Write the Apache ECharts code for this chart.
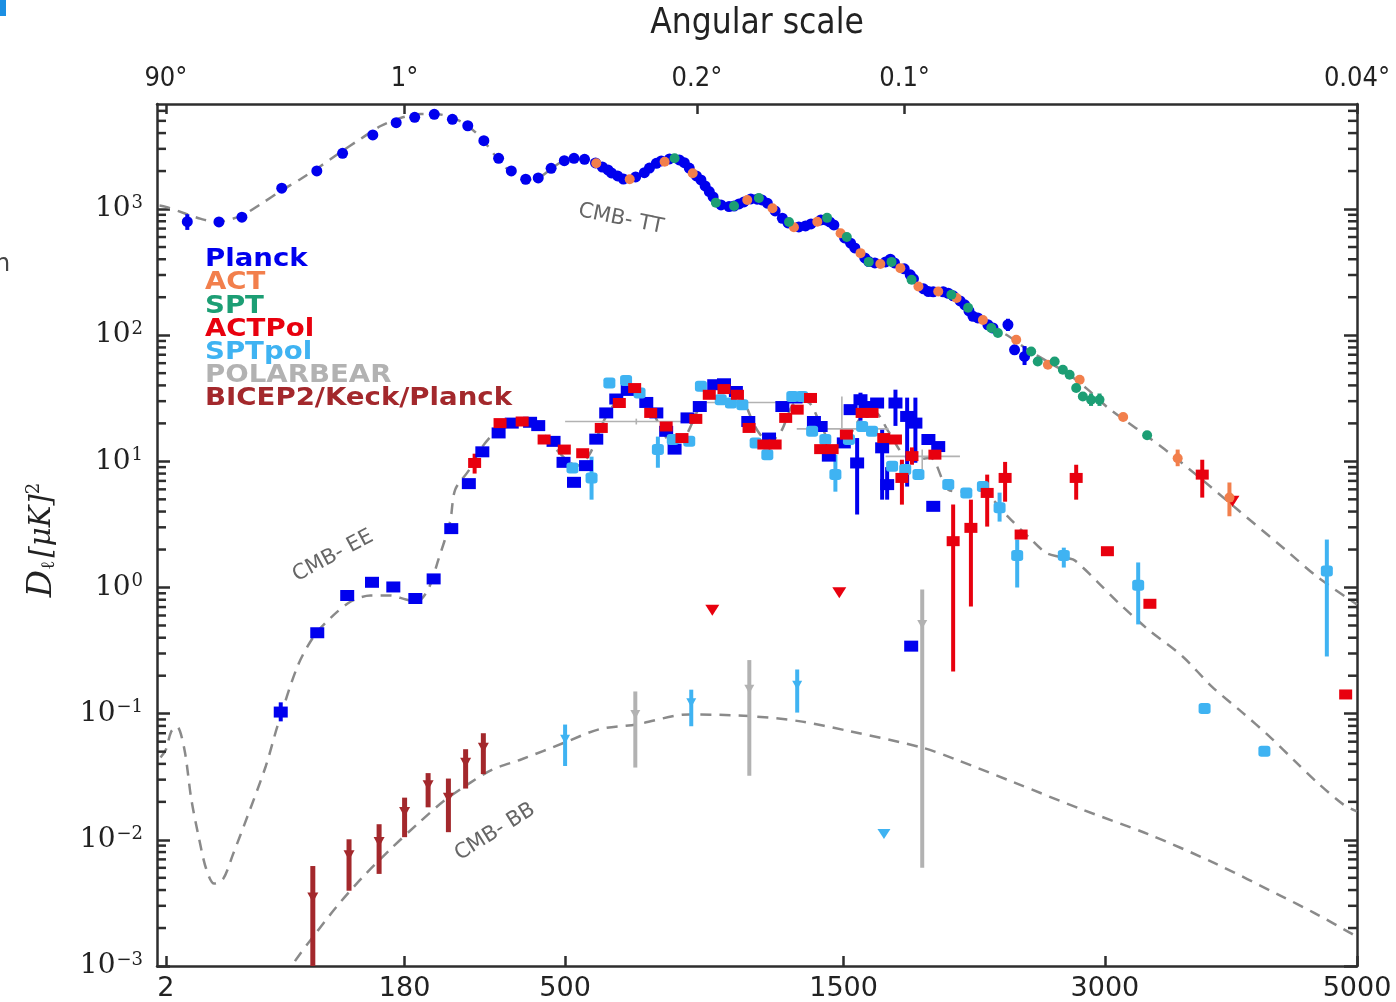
<!DOCTYPE html>
<html>
<head>
<meta charset="utf-8">
<title>CMB power spectra</title>
<script src="https://cdn.jsdelivr.net/npm/echarts@6/dist/echarts.min.js"></script>
<style>
  html, body { margin: 0; padding: 0; background: #fff; }
  #chart { width: 1396px; height: 1002px; }
</style>
</head>
<body>
<div id="chart"></div>
<script>
// multipole axis is drawn on an l^0.45 scale
const P = 0.45;
const xf = l => Math.pow(l, P);
const X_MIN = xf(1.07), X_MAX = xf(5000);

// tick labels
const bottomTicks = [2, 180, 500, 1500, 3000, 5000];
const topTickEll = [2, 180, 900, 1800, 5000];
const topTickText = ['90°', '1°', '0.2°', '0.1°', '0.04°'];
const yMajor = [1e-3, 1e-2, 1e-1, 1, 10, 100, 1000];

// theory curves [l, D]
const ttModel = [[1.3,1065],[2,1040],[5.4,914],[9,835],[13.8,790],[24.1,882],[34.8,1097],[47.6,1390],[62.7,1730],[80.2,2194],[100,2831],[122,3590],[147,4550],[174,5260],[204,5660],[228,5660],[254,5360],[280,4720],[309,3724],[338,2680],[371,1967],[404,1700],[438,1795],[474,2194],[511,2493],[551,2493],[592,2234],[635,1862],[680,1730],[725,1967],[773,2360],[823,2540],[873,2194],[926,1524],[980,1138],[1036,1057],[1094,1159],[1153,1138],[1215,931],[1278,748],[1343,762],[1410,820],[1478,683],[1549,501],[1620,388],[1693,367],[1769,354],[1846,275],[1925,225],[2005,213],[2088,191],[2172,145],[2258,121],[2377,98.9],[2498,76.6],[2624,61.5],[2753,49.5],[2885,37],[3021,26.6],[3232,17.8],[3447,11.9],[3668,7.7],[3982,4.15],[4373,2.0],[4645,1.22],[5000,0.733]];
const eeModel = [[1.4,0.045],[2,0.052],[2.7,0.072],[3.6,0.079],[5,0.052],[6.5,0.021],[8.5,0.0101],[10.5,0.0059],[13.1,0.0045],[16.4,0.0049],[20.5,0.0077],[27.5,0.0155],[37.8,0.0385],[45.4,0.08],[60.2,0.238],[74,0.411],[90,0.578],[111,0.775],[134,0.865],[160,0.865],[182,0.803],[198,0.775],[216,0.964],[233,1.67],[253,3.33],[262,5.97],[288,8.6],[309,12.4],[338,16.9],[371,19.9],[404,20.6],[438,17.8],[474,12.8],[509,9.95],[532,9.25],[564,11.3],[606,21.4],[649,31.9],[680,35.6],[725,31.9],[773,19.5],[812,14.3],[856,15.4],[908,26.6],[962,37],[1010,39],[1063,32.5],[1125,17.8],[1174,14.3],[1223,17.2],[1278,28.6],[1334,29.7],[1396,19.5],[1455,12.8],[1515,14.9],[1582,22.2],[1645,24.8],[1718,17.2],[1793,11.3],[1862,10.3],[1935,10.7],[2033,5.97],[2117,5.75],[2200,5.97],[2317,4.54],[2377,3.65],[2519,2.4],[2610,1.89],[2688,1.76],[2785,1.67],[2851,1.44],[2952,1.1],[3091,0.761],[3303,0.465],[3557,0.284],[3780,0.164],[4022,0.102],[4241,0.0661],[4466,0.0411],[4645,0.0286],[4876,0.0191],[5000,0.0168]];
const bbModel = [[52,0.0008],[57.3,0.00106],[73.8,0.00173],[96.5,0.003],[126,0.00518],[160,0.00843],[199,0.0133],[242,0.0203],[290,0.0284],[334,0.0362],[396,0.0435],[498,0.0589],[590,0.0751],[700,0.0822],[873,0.0987],[1094,0.0957],[1299,0.0873],[1525,0.0728],[1892,0.0538],[2073,0.0435],[2417,0.0284],[2840,0.0175],[3303,0.0111],[3793,0.0066],[4336,0.0036],[4616,0.00265],[4930,0.00185],[5000,0.0017]];

// measurements [l, D, lo, hi]
const planckTT = [[5.6,794,683,910],[14.8,791],[24.6,861],[48.3,1462],[76.6,2004],[102,2766],[137,3864],[168,4831],[195,5333],[226,5633],[257,5140],[285,4571],[316,3481],[346,2525],[373,2004],[405,1722],[434,1763],[465,2104],[498,2417],[523,2525],[551,2479],[581,2321],[600,2154],[616,2040],[626,1932],[644,1828],[661,1730],[698,1795],[725,1941],[741,2113],[763,2305],[779,2404],[806,2495],[839,2449],[856,2329],[873,2113],[898,1829],[914,1700],[929,1524],[944,1374],[958,1247],[987,1077],[1017,1045],[1036,1057],[1055,1097],[1074,1138],[1101,1202],[1126,1196],[1145,1181],[1167,1112],[1199,966],[1229,845],[1253,776],[1299,721],[1328,735],[1352,762],[1396,820],[1418,820],[1436,791],[1455,748],[1505,590],[1533,536],[1553,492],[1601,410],[1620,383],[1650,374],[1703,381],[1727,400],[1748,374],[1798,336],[1829,301],[1846,280],[1899,233],[1925,222],[1951,221],[2005,221],[2033,215],[2060,205],[2099,187],[2125,174],[2149,156],[2172,141],[2200,137],[2258,121],[2288,114],[2377,121,108,135],[2417,76.6],[2478,67.8,58,82]];
const actTT = [[583,2305],[680,1722],[790,2373],[885,1920],[1087,1181],[1188,1015],[1278,718],[1380,794],[1486,643],[1580,447],[1677,367],[1778,340],[1872,243],[1978,222],[2079,197],[2229,132],[2427,92],[2624,58.3],[2830,44.4],[3126,22.5],[3520,10.6,9.15,12.4],[3918,5.16,3.67,6.8]];
const sptTT = [[823,2525],[968,1124],[1036,1057],[1133,1224],[1257,790],[1424,851],[1515,601],[1620,381],[1733,381],[1836,275],[2050,209],[2144,165],[2278,114],[2317,104],[2519,74.3],[2560,61.9],[2667,61.9],[2720,53.2],[2764,48.6],[2807,38.1],[2851,32.7],[2906,30.8,27.5,34.5],[2963,30.8,27.5,34.5],[3296,16.1]];
const planckEE = [[47.6,0.103,0.0869,0.123],[77,0.438],[107,0.864],[136,1.10],[164,1.01],[196,0.818],[225,1.17],[255,2.93],[287,6.66],[313,11.9],[346,16.8],[374,20.1],[415,20.4],[434,19.2],[471,14.4],[496,9.82],[523,6.82],[555,9.25],[583,15.0],[611,24.2],[640,31.2],[674,36.5],[731,29.3],[763,24.2],[795,17.3],[823,12.5],[867,22.1],[910,27.2],[962,40.5],[998,41.2],[1043,35.8],[1091,20.7],[1174,15.3],[1229,27.2],[1285,31.8],[1365,20.7],[1395,18.9],[1432,11.0],[1501,14.0],[1533,25.7],[1580,30.8,21,35],[1620,27.2],[1661,29.0],[1564,9.71,3.79,15.3],[1686,12.8,4.97,17.8],[1711,6.54,4.97,9.0],[1753,29.0,19.1,37.0],[1813,22.7,6.31,32.0],[1856,20.1,9.75,32.0],[1925,14.9],[1978,13.1],[1951,4.40],[1834,0.343]];
const actpolEE = [[298,9.71,8.0,11.5],[349,20.1],[397,20.7],[448,14.9],[498,12.4],[546,11.6],[597,18.4],[649,29.0],[695,38.1],[745,24.2],[795,18.9],[848,15.3],[896,21.7],[944,33.7],[998,37.4],[1049,33.7],[1094,18.4],[1153,13.6],[1199,13.6],[1243,22.1],[1292,25.7],[1350,31.8],[1395,12.5],[1447,12.5],[1513,16.3],[1588,24.2],[1636,24.2],[1694,15.3],[1753,14.9],[1786,7.39,4.54,10.3],[1838,11.0,9.4,12.9],[1960,11.3],[2060,2.33,0.216,4.54],[2160,2.97,0.707,4.97],[2254,5.62,3.04,7.85],[2360,7.39,4.79,9.9],[2457,2.63],[2807,7.39,4.97,9.4],[3017,1.94],[3316,0.743],[3706,7.85,5.16,10.3],[4898,0.142]];
const actpolLimits = [[955,0.661],[1480,0.908],[3942,4.82]];
const sptpolEE = [[519,8.87],[570,7.39,4.97,10.9],[620,41.8],[669,43.8],[710,34.8],[768,12.4,8.9,15.7],[817,14.9],[873,14.4],[914,39.3],[986,30.8],[1024,29.0],[1068,28.1],[1120,14.0],[1167,11.3],[1271,32.7],[1313,32.7],[1357,17.3],[1416,14.9],[1462,7.85,5.75,11.3],[1525,14.9],[1588,18.9],[1636,17.3],[1736,9.13],[1803,8.6],[1872,7.85],[2033,6.54],[2134,5.62],[2229,6.31],[2327,4.28,3.33,5.65],[2433,1.79,1.0,2.40],[2726,1.79,1.44,2.07],[3232,1.04,0.51,1.58],[3724,0.110],[4200,0.0503],[4731,1.35,0.284,2.40]];
const sptpolBB = [[500,0.0626,0.0385,0.082],[880,0.122,0.0795,0.155],[1292,0.168,0.102,0.224]];
const sptpolLimits = [[1695,0.0111]];
// [l, D, lmin, lmax, Dlo, Dhi]
const polarbearEE = [[700,20.7,500,898,19.6,21.8],[1073,29.3,908,1257,27.8,30.8],[1492,18.1,1290,1718,15.4,32.7],[1892,10.96,1703,2098,8.6,12.4]];
const polarbearBB = [[697,0.0986,0.0374,0.15],[1095,0.156,0.0322,0.266],[1892,0.509,0.006,0.964]];
const bicepBB = [[73,0.00349,0.001,0.0062],[109,0.00755,0.00395,0.0101],[145,0.0096,0.00537,0.0133],[180,0.0166,0.0105,0.0216],[216,0.0271,0.0181,0.0338],[250,0.0216,0.0115,0.0306],[281,0.0409,0.0255,0.0523],[315,0.0538,0.0332,0.070]];

const C = {
    planck: '#0000ee', act: '#f27f4c', spt: '#1c9e74', actpol: '#e8000e',
    sptpol: '#3fb3f2', polarbear: '#b2b2b2', bicep: '#a3282c', model: '#8a8a8a'
};
const axisColor = '#2e2e2e';

// minor tick positions of the log axis (2..9 per decade)
const yMinor = [];
for (let e = -3; e <= 3; e++) for (let k = 2; k <= 9; k++) {
    const v = k * Math.pow(10, e);
    if (v < 6800) yMinor.push(v);
}

function nearest(list, v) {
    return list.reduce((a, b) => Math.abs(b - v) < Math.abs(a - v) ? b : a);
}

function model(data) {
    return {
        type: 'line', data: data.map(d => [xf(d[0]), d[1]]), showSymbol: false, smooth: 0.3,
        lineStyle: { color: C.model, width: 2.5, type: [11, 8] }, silent: true, z: 1
    };
}
function points(data, color, symbol, size, rotate) {
    return {
        type: 'scatter', data: data.map(d => [xf(d[0]), d[1]]), symbol: symbol, symbolSize: size,
        symbolRotate: rotate || 0, itemStyle: { color: color, opacity: 1 }, silent: true, z: 3
    };
}
function errbars(data, color, w) {
    return {
        type: 'custom', silent: true, z: 3,
        data: data.filter(d => d.length >= 4).map(d => [xf(d[0]), d[2], d[3]]),
        encode: { x: 0, y: [1, 2] },
        renderItem: function (params, api) {
            const a = api.coord([api.value(0), api.value(1)]);
            const b = api.coord([api.value(0), api.value(2)]);
            return { type: 'line', shape: { x1: a[0], y1: a[1], x2: b[0], y2: b[1] },
                style: { stroke: color, lineWidth: w } };
        }
    };
}
function crossbars(data, color, w) {
    return {
        type: 'custom', silent: true, z: 2,
        data: data.map(d => [xf(d[2]), xf(d[3]), d[1], d[4], d[5], xf(d[0])]),
        encode: { x: [0, 1], y: 2 },
        renderItem: function (params, api) {
            const a = api.coord([api.value(0), api.value(2)]);
            const b = api.coord([api.value(1), api.value(2)]);
            const c = api.coord([api.value(5), api.value(3)]);
            const d = api.coord([api.value(5), api.value(4)]);
            return { type: 'group', children: [
                { type: 'line', shape: { x1: a[0], y1: a[1], x2: b[0], y2: b[1] }, style: { stroke: color, lineWidth: w } },
                { type: 'line', shape: { x1: c[0], y1: c[1], x2: d[0], y2: d[1] }, style: { stroke: color, lineWidth: w } }
            ] };
        }
    };
}
// short inward marks on both vertical spines at the minor log values
function minorTicks(values, len) {
    return {
        type: 'custom', silent: true, z: 6,
        data: values.map(v => [(X_MIN + X_MAX) / 2, v]),
        encode: { x: 0, y: 1 },
        renderItem: function (params, api) {
            const l = api.coord([X_MIN, api.value(1)]);
            const r = api.coord([X_MAX, api.value(1)]);
            const st = { stroke: axisColor, lineWidth: 2.5 };
            return { type: 'group', children: [
                { type: 'line', shape: { x1: l[0], y1: l[1], x2: l[0] + len, y2: l[1] }, style: st },
                { type: 'line', shape: { x1: r[0] - len, y1: r[1], x2: r[0], y2: r[1] }, style: st }
            ] };
        }
    };
}

const yAxisBase = {
    type: 'log', logBase: 10, min: 0.001, max: 6800, splitLine: { show: false },
    axisLine: { show: true, onZero: false, lineStyle: { color: axisColor, width: 2.5 } },
    axisTick: { show: true, inside: true, length: 13, customValues: yMajor, lineStyle: { color: axisColor, width: 2.5 } }
};

const legendItems = [
    ['Planck', C.planck], ['ACT', C.act], ['SPT', C.spt], ['ACTPol', C.actpol],
    ['SPTpol', C.sptpol], ['POLARBEAR', C.polarbear], ['BICEP2/Keck/Planck', C.bicep]
];

const chart = echarts.init(document.getElementById('chart'));
chart.setOption({
    animation: false,
    backgroundColor: '#fff',
    grid: { left: 157, top: 104, width: 1200, height: 862 },
    xAxis: [{
        type: 'value', position: 'bottom', min: X_MIN, max: X_MAX,
        axisLine: { show: true, onZero: false, lineStyle: { color: axisColor, width: 2.5 } },
        axisTick: { show: true, inside: true, length: 10, customValues: bottomTicks.map(xf), lineStyle: { color: axisColor, width: 2.5 } },
        axisLabel: { customValues: bottomTicks.map(xf), margin: 9, fontSize: 27, color: '#222', fontFamily: 'DejaVu Sans',
            formatter: v => String(nearest(bottomTicks, Math.pow(v, 1 / P))) },
        splitLine: { show: false }
    }, {
        type: 'value', position: 'top', min: X_MIN, max: X_MAX,
        axisLine: { show: true, onZero: false, lineStyle: { color: axisColor, width: 2.5 } },
        axisTick: { show: true, inside: true, length: 10, customValues: topTickEll.map(xf), lineStyle: { color: axisColor, width: 2.5 } },
        axisLabel: { customValues: topTickEll.map(xf), margin: 12, fontSize: 27, color: '#222', fontFamily: "'DejaVu Sans Condensed', 'DejaVu Sans'",
            formatter: v => topTickText[topTickEll.indexOf(nearest(topTickEll, Math.pow(v, 1 / P)))] },
        splitLine: { show: false }
    }],
    yAxis: [Object.assign({}, yAxisBase, {
        position: 'left',
        axisLabel: {
            customValues: yMajor, margin: 14, color: '#222',
            formatter: v => {
                const e = Math.round(Math.log10(v));
                return '{b|10}{s|' + (e < 0 ? '\u2212' + (-e) : e) + '}';
            },
            rich: {
                b: { fontSize: 28, fontFamily: 'DejaVu Serif', color: '#222' },
                s: { fontSize: 18, fontFamily: 'DejaVu Serif', color: '#222', verticalAlign: 'top', padding: [0, 0, 12, 1] }
            }
        }
    }), Object.assign({}, yAxisBase, {
        position: 'right', axisLabel: { show: false }
    })],
    graphic: [
        { type: 'rect', left: 0, top: 0, shape: { width: 6, height: 16 }, style: { fill: '#1b8fe3' } },
        { type: 'text', x: -5, y: 265, style: { text: 'n', fill: '#444', font: '24px "DejaVu Sans"', verticalAlign: 'middle', textVerticalAlign: 'middle' } },
        { type: 'text', x: 757, y: 24, style: { text: 'Angular scale', fill: '#222', font: '35px "DejaVu Sans Condensed", "DejaVu Sans"', align: 'center', textAlign: 'center', verticalAlign: 'middle', textVerticalAlign: 'middle' } },
        { type: 'text', x: 42, y: 540, rotation: Math.PI / 2, style: {
            text: '{d|D}{l|\u2113} {u|[\u03bcK]}{s|2}', align: 'center', textAlign: 'center', verticalAlign: 'middle', textVerticalAlign: 'middle',
            rich: {
                d: { fontSize: 34, fontFamily: 'DejaVu Serif', fontStyle: 'italic', fill: '#222', color: '#222' },
                l: { fontSize: 19, fontFamily: 'DejaVu Serif', fill: '#222', color: '#222', verticalAlign: 'bottom' },
                u: { fontSize: 29, fontFamily: 'DejaVu Serif', fontStyle: 'italic', fill: '#222', color: '#222' },
                s: { fontSize: 18, fontFamily: 'DejaVu Serif', fill: '#222', color: '#222', verticalAlign: 'top' }
            } } },
        { type: 'text', x: 621, y: 219, rotation: -0.2, style: { text: 'CMB- TT', fill: '#666', font: '21px "DejaVu Sans"', align: 'center', textAlign: 'center', verticalAlign: 'middle', textVerticalAlign: 'middle' } },
        { type: 'text', x: 333, y: 556, rotation: 0.49, style: { text: 'CMB- EE', fill: '#666', font: '21px "DejaVu Sans"', align: 'center', textAlign: 'center', verticalAlign: 'middle', textVerticalAlign: 'middle' } },
        { type: 'text', x: 495, y: 832, rotation: 0.56, style: { text: 'CMB- BB', fill: '#666', font: '21px "DejaVu Sans"', align: 'center', textAlign: 'center', verticalAlign: 'middle', textVerticalAlign: 'middle' } }
    ].concat(legendItems.map((it, i) => ({
        type: 'text', x: 205, y: 260 + i * 23.2, z: 10, scaleX: 1.15,
        style: { text: it[0], fill: it[1], font: 'bold 24px "DejaVu Sans"', verticalAlign: 'middle', textVerticalAlign: 'middle' }
    }))),
    series: [
        model(ttModel), model(eeModel), model(bbModel),
        errbars(planckTT, C.planck, 4), points(planckTT, C.planck, 'circle', 11),
        errbars(planckEE, C.planck, 4), points(planckEE, C.planck, 'rect', [14, 11]),
        errbars(sptpolEE, C.sptpol, 4), points(sptpolEE, C.sptpol, 'roundRect', [12, 11]),
        errbars(sptpolBB, C.sptpol, 4), points(sptpolBB, C.sptpol, 'triangle', [10, 9], 180),
        points(sptpolLimits, C.sptpol, 'triangle', [13, 10], 180),
        crossbars(polarbearEE, C.polarbear, 1.6),
        errbars(polarbearBB, C.polarbear, 4), points(polarbearBB, C.polarbear, 'triangle', [10, 9], 180),
        errbars(actpolEE, C.actpol, 4), points(actpolEE, C.actpol, 'rect', [13, 10]),
        points(actpolLimits, C.actpol, 'triangle', [14, 11], 180),
        errbars(actTT, C.act, 4), points(actTT, C.act, 'circle', 10),
        errbars(sptTT, C.spt, 4), points(sptTT, C.spt, 'circle', 10),
        errbars(bicepBB, C.bicep, 5), points(bicepBB, C.bicep, 'triangle', [11, 10], 180),
        minorTicks(yMinor, 9)
    ]
});
</script>
</body>
</html>
